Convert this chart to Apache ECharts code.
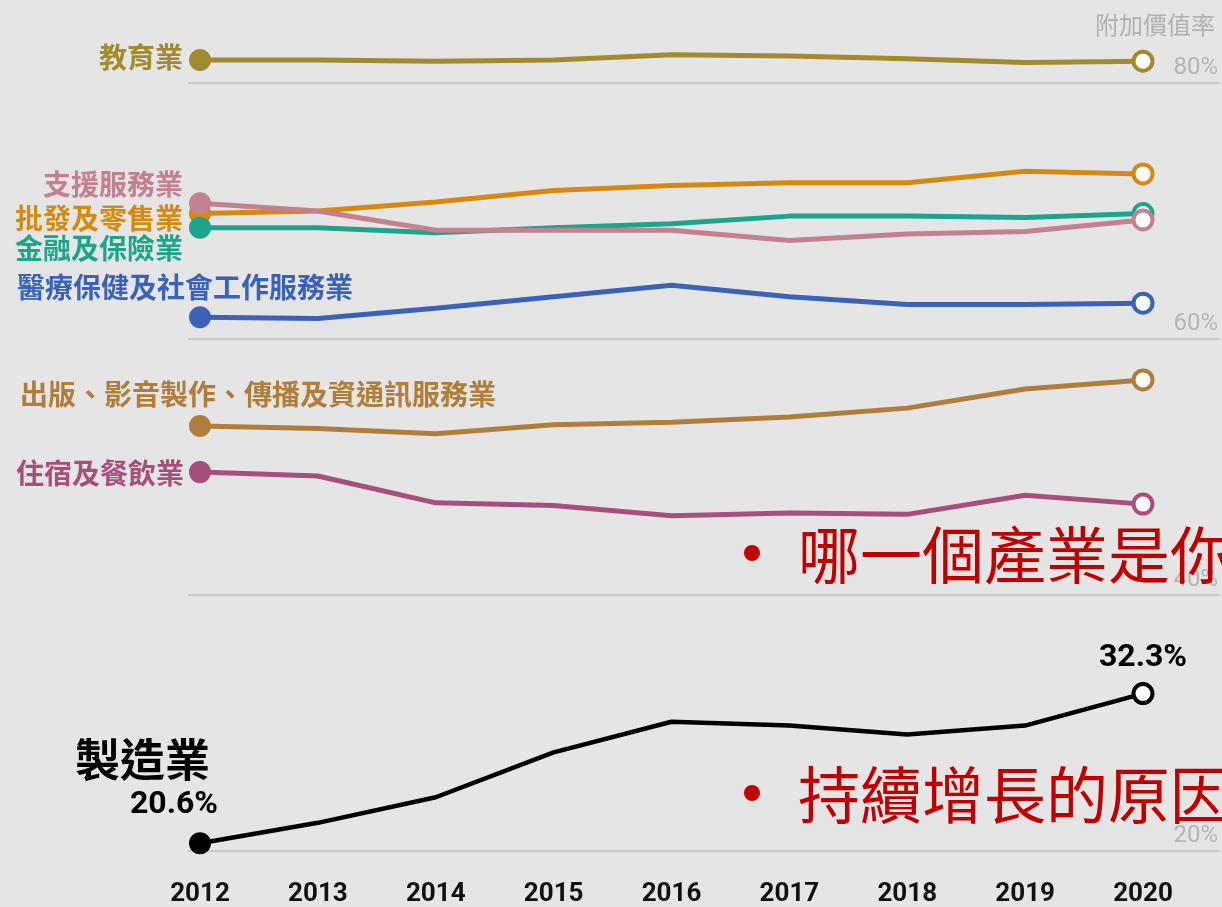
<!DOCTYPE html>
<html>
<head>
<meta charset="UTF-8">
<title>附加價值率</title>
<script src="https://cdn.jsdelivr.net/npm/echarts@6/dist/echarts.min.js"></script>
<style>
  html, body { margin: 0; padding: 0; background: #e5e5e5; }
  #main { width: 1222px; height: 907px; }
</style>
</head>
<body>
<div id="main"></div>
<script type="text/javascript">
// 年份
var years = ['2012', '2013', '2014', '2015', '2016', '2017', '2018', '2019', '2020'];
// 各產業附加價值率 (%)
var education     = [81.8, 81.8, 81.7, 81.8, 82.2, 82.1, 81.9, 81.6, 81.7];
var wholesale     = [69.8, 70.0, 70.7, 71.6, 72.0, 72.2, 72.2, 73.1, 72.9];
var support       = [70.6, 70.0, 68.5, 68.5, 68.5, 67.7, 68.2, 68.4, 69.3];
var finance       = [68.7, 68.7, 68.3, 68.7, 69.0, 69.6, 69.6, 69.5, 69.8];
var health        = [61.7, 61.6, 62.4, 63.3, 64.2, 63.3, 62.7, 62.7, 62.8];
var publishing    = [53.2, 53.0, 52.6, 53.3, 53.5, 53.9, 54.6, 56.1, 56.8];
var accommodation = [49.6, 49.3, 47.2, 47.0, 46.2, 46.4, 46.3, 47.8, 47.1];
var manufacturing = [20.6, 22.2, 24.2, 27.7, 30.1, 29.8, 29.1, 29.8, 32.3];
// 右側刻度
var yTicks = [20, 40, 60, 80];

var cjk = '"Noto Sans CJK TC", "Noto Sans CJK SC", sans-serif';
var gridLeft = 200, gridRight = 79, gridTop = 83, gridBottom = 56;

// 每條線的顏色與起點標籤偏移
function makeSeries(name, data, color, offset, width) {
  var last = data.length - 1;
  var items = data.map(function (v, i) {
    if (i === 0) {
      return {
        value: v, symbol: 'circle', symbolSize: 22,
        itemStyle: { color: color, borderWidth: 0 },
        label: {
          show: true, position: 'left', distance: 6, offset: offset,
          align: 'right', verticalAlign: 'middle',
          color: color, fontSize: 28, fontWeight: 'bold', fontFamily: cjk,
          formatter: function () { return name; }
        }
      };
    }
    if (i === last) {
      return {
        value: v, symbol: 'circle', symbolSize: 19,
        itemStyle: { color: '#ffffff', borderColor: color, borderWidth: 4 }
      };
    }
    return { value: v, symbol: 'none' };
  });
  return {
    name: name, type: 'line', data: items,
    xAxisIndex: 0, yAxisIndex: 0,
    showSymbol: true, showAllSymbol: true, clip: false, silent: true,
    lineStyle: { color: color, width: width || 5 },
    itemStyle: { color: color },
    emphasis: { disabled: true }
  };
}

var series = [
  makeSeries('教育業', education, '#a38a2f', [0, -3]),
  makeSeries('批發及零售業', wholesale, '#d6890f', [0, 5]),
  makeSeries('金融及保險業', finance, '#1ba58b', [0, 21]),
  makeSeries('支援服務業', support, '#c3808f', [0, -19]),
  makeSeries('醫療保健及社會工作服務業', health, '#3a63b8', [170, -30]),
  makeSeries('出版、影音製作、傳播及資通訊服務業', publishing, '#b07e3a', [313, -32]),
  makeSeries('住宿及餐飲業', accommodation, '#a84e7d', [1, 1])
];

// 製造業：黑線，起點與終點標出數值
var mfg = makeSeries('製造業', manufacturing, '#000000', [35, -63], 4.5);
mfg.data[0].label = {
  show: true, position: 'left', distance: 6, offset: [35, -63],
  align: 'right', verticalAlign: 'middle',
  formatter: function (p) { return '{a|製造業}\n{b|' + p.value.toFixed(1) + '%}'; },
  rich: {
    a: { fontSize: 45, fontWeight: 'bold', fontFamily: cjk, color: '#000', lineHeight: 50, padding: [0, 8, 0, 0] },
    b: { fontSize: 32, fontWeight: 'bold', fontFamily: 'Roboto', color: '#000', lineHeight: 40 }
  }
};
mfg.data[manufacturing.length - 1].label = {
  show: true, position: 'top', distance: 8,
  color: '#000', fontSize: 32, fontWeight: 'bold', fontFamily: 'Roboto',
  formatter: function (p) { return p.value.toFixed(1) + '%'; }
};
series.push(mfg);

var myChart = echarts.init(document.getElementById('main'));
var option = {
  backgroundColor: '#e5e5e5',
  animation: false,
  title: {
    text: '附加價值率', right: 2, top: 8,
    textStyle: { color: '#b0b0b0', fontSize: 24, fontWeight: 'normal', fontFamily: cjk }
  },
  grid: [
    { left: gridLeft, right: gridRight, top: gridTop, bottom: gridBottom },
    { left: 188, right: 2, top: gridTop, bottom: gridBottom }
  ],
  xAxis: [
    {
      type: 'category', gridIndex: 0, data: years, boundaryGap: false,
      axisLine: { show: false }, axisTick: { show: false },
      axisLabel: {
        margin: 30, color: '#111', fontSize: 26, fontWeight: 'bold',
        fontFamily: 'Roboto, sans-serif'
      }
    },
    { type: 'value', gridIndex: 1, min: 0, max: 1, show: false }
  ],
  yAxis: [
    { type: 'value', gridIndex: 0, min: 20, max: 80, show: false },
    {
      type: 'value', gridIndex: 1, position: 'right',
      min: yTicks[0], max: yTicks[yTicks.length - 1], interval: 20,
      axisLine: { show: false }, axisTick: { show: false },
      splitLine: { show: true, lineStyle: { color: '#c9c9c9', width: 2 } },
      axisLabel: {
        inside: true, margin: 2, verticalAlign: 'bottom', padding: [0, 0, 3, 0],
        color: '#b4b4b4', fontSize: 24, fontFamily: 'Roboto',
        formatter: '{value}%'
      }
    }
  ],
  series: series,
  graphic: [
    { type: 'circle', shape: { cx: 752, cy: 553, r: 8 }, style: { fill: '#c00000' }, z: 100 },
    {
      type: 'text', x: 798, y: 555, z: 100,
      style: { text: '哪一個產業是你', fill: '#c00000', font: '62px ' + cjk, textVerticalAlign: 'middle' }
    },
    { type: 'circle', shape: { cx: 752, cy: 793, r: 8 }, style: { fill: '#c00000' }, z: 100 },
    {
      type: 'text', x: 798, y: 795, z: 100,
      style: { text: '持續增長的原因', fill: '#c00000', font: '62px ' + cjk, textVerticalAlign: 'middle' }
    }
  ]
};
myChart.setOption(option);
</script>
</body>
</html>
